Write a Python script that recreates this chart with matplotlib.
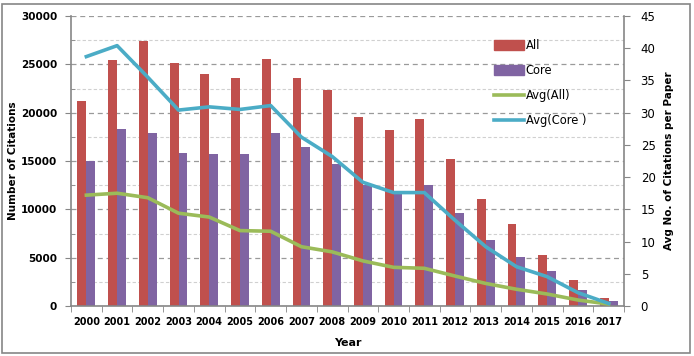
import matplotlib
matplotlib.use("Agg")
import matplotlib.pyplot as plt
import numpy as np
from matplotlib.patches import Rectangle
from matplotlib.lines import Line2D
from matplotlib.patches import Patch

years = [str(y) for y in range(2000, 2018)]
all_cit = [21200, 25500, 27400, 25100, 24000, 23600, 25600, 23600, 22300,
           19600, 18200, 19300, 15200, 11050, 8500, 5300, 2700, 850]
core_cit = [15000, 18300, 17900, 15800, 15700, 15700, 17900, 16400, 14700,
            12500, 11800, 12500, 9600, 6800, 5050, 3600, 1650, 550]
avg_all = [17.2, 17.5, 16.8, 14.4, 13.8, 11.7, 11.6, 9.2, 8.4,
           7.0, 6.0, 5.85, 4.65, 3.5, 2.6, 1.86, 0.93, 0.3]
avg_core = [38.7, 40.4, 35.5, 30.4, 30.9, 30.5, 31.1, 26.2, 23.2,
            19.2, 17.6, 17.6, 13.3, 9.2, 6.1, 4.55, 2.07, 0.4]

C_ALL = "#C0504D"
C_CORE = "#8064A2"
C_AVGALL = "#9BBB59"
C_AVGCORE = "#4BACC6"
GRAY = "#868686"

W, H = 694, 356
fig = plt.figure(figsize=(W / 100, H / 100), dpi=100)
ax = fig.add_axes([71 / W, 1 - 306 / H, (624 - 71) / W, (306 - 16) / H])

x = np.arange(len(years))
bw = 0.29
ax.bar(x - bw / 2, all_cit, bw, color=C_ALL, zorder=2)
ax.bar(x + bw / 2, core_cit, bw, color=C_CORE, zorder=2)

ax.set_xlim(-0.5, len(years) - 0.5)
ax.set_ylim(0, 30000)
ax.set_yticks(np.arange(0, 30001, 5000))
ax.set_yticks(np.arange(2500, 30000, 5000), minor=True)
ax.grid(axis="y", which="major", color="#9a9a9a", linestyle=(0, (4, 3)), linewidth=0.9, zorder=0)
ax.grid(axis="y", which="minor", color="#d0d0d0", linestyle=(0, (3, 2)), linewidth=0.8, zorder=0)
ax.set_axisbelow(True)

ax.set_xticks(x)
ax.set_xticklabels(years, fontweight="bold", fontsize=7)
ax.set_xticks(np.arange(-0.5, len(years), 1), minor=True)
ax.tick_params(axis="x", which="major", length=0, pad=8)
ax.tick_params(axis="x", which="minor", length=4, color=GRAY, direction="out")
ax.tick_params(axis="y", which="major", length=4, color=GRAY, labelsize=7.5, pad=6)
ax.tick_params(axis="y", which="minor", length=3, color=GRAY, direction="in")
for lab in ax.get_yticklabels():
    lab.set_fontweight("bold")

for s in ["top", "right"]:
    ax.spines[s].set_visible(False)
for s in ["left", "bottom"]:
    ax.spines[s].set_color(GRAY)
    ax.spines[s].set_linewidth(1.2)

ax.set_ylabel("Number of Citations", fontweight="bold", fontsize=7.5)
ax.yaxis.set_label_coords((18 - 71) / 553, 0.5)
ax.set_xlabel("Year", fontweight="bold", fontsize=8)
ax.xaxis.set_label_coords(0.5, -(338 - 306) / 290)

ax2 = ax.twinx()
ax2.plot(x, avg_all, color=C_AVGALL, linewidth=2.6, zorder=3)
ax2.plot(x, avg_core, color=C_AVGCORE, linewidth=2.6, zorder=3)
ax2.set_ylim(0, 45)
ax2.set_yticks(np.arange(0, 46, 5))
ax2.tick_params(axis="y", length=4, color=GRAY, labelsize=8.5, pad=8)
for s in ["top", "left", "bottom"]:
    ax2.spines[s].set_visible(False)
ax2.spines["right"].set_color(GRAY)
ax2.spines["right"].set_linewidth(1.2)
ax2.set_ylabel("Avg No. of Citations per Paper", fontweight="bold", fontsize=7.5)
ax2.yaxis.set_label_coords((664 - 71) / 553, 0.5)

handles = [Patch(color=C_ALL), Patch(color=C_CORE),
           Line2D([0], [0], color=C_AVGALL, linewidth=2.6),
           Line2D([0], [0], color=C_AVGCORE, linewidth=2.6)]
labels = ["All", "Core", "Avg(All)", "Avg(Core )"]
leg = ax2.legend(handles, labels, loc="upper left", bbox_to_anchor=((494 - 71) / 553, (306 - 39) / 290),
                 frameon=False, fontsize=8.3, handlelength=2.6, handleheight=0.9,
                 labelspacing=1.05, handletextpad=0.15, borderaxespad=0, borderpad=0)

fig.patches.append(Rectangle((2 / W, 3 / H), (690 - 2) / W, (352 - 3) / H,
                             transform=fig.transFigure, fill=False,
                             edgecolor=GRAY, linewidth=1.2))

fig.savefig("out.png", dpi=100)
